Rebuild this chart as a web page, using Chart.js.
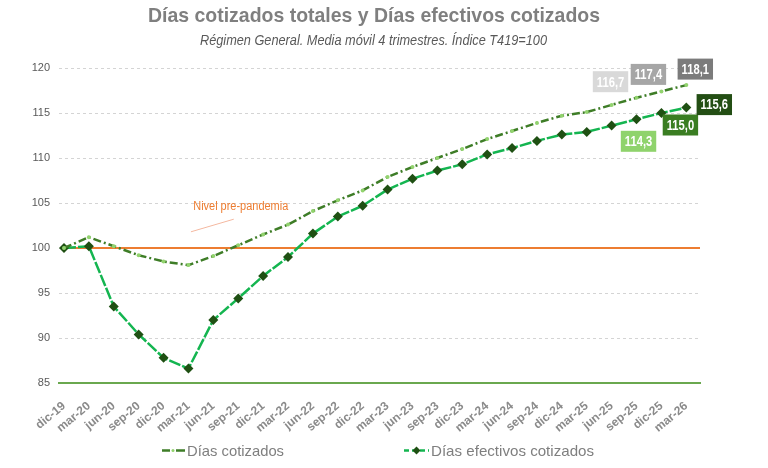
<!DOCTYPE html>
<html><head><meta charset="utf-8">
<script src="https://cdn.jsdelivr.net/npm/chart.js@4.4.1/dist/chart.umd.min.js"></script>
<style>html,body{margin:0;padding:0;background:#fff}#wrap{width:768px;height:468px;position:relative}</style>
</head><body><div id="wrap"><canvas id="c"></canvas></div>
<script>
const categories = ['dic-19','mar-20','jun-20','sep-20','dic-20','mar-21','jun-21','sep-21','dic-21','mar-22','jun-22','sep-22','dic-22','mar-23','jun-23','sep-23','dic-23','mar-24','jun-24','sep-24','dic-24','mar-25','jun-25','sep-25','dic-25','mar-26'];
const diasCotizados = [100, 101.2, 100.2, 99.2, 98.5, 98.1, 99.1, 100.3, 101.5, 102.6, 104.1, 105.3, 106.4, 107.9, 109.0, 110.0, 111.0, 112.1, 113.0, 113.9, 114.7, 115.1, 115.9, 116.7, 117.4, 118.1];
const diasEfectivos = [100, 100.2, 93.5, 90.4, 87.8, 86.6, 92.0, 94.4, 96.9, 99.0, 101.6, 103.5, 104.7, 106.5, 107.7, 108.6, 109.3, 110.4, 111.1, 111.9, 112.6, 112.9, 113.6, 114.3, 115.0, 115.6];
const yTickValues = [85, 90, 95, 100, 105, 110, 115, 120];
const seriesNames = ['Días cotizados', 'Días efectivos cotizados'];
const preLevel = 100;
const preLevelText = 'Nivel pre-pandemia';
const titleText = 'Días cotizados totales y Días efectivos cotizados';
const subtitleText = 'Régimen General. Media móvil 4 trimestres. Índice T419=100';
const labelledIndices = [23, 24, 25];

const SANS = "'Liberation Sans',Arial,sans-serif";
const fmt = v => v.toFixed(1).replace('.', ',');

// draw text squeezed horizontally to a target width (emulates a narrow face)
function fitText(ctx, text, x, y, font, width, align, baseline) {
  ctx.save();
  ctx.font = font;
  const s = width / ctx.measureText(text).width;
  ctx.translate(x, y);
  ctx.scale(s, 1);
  ctx.textAlign = align;
  ctx.textBaseline = baseline || 'alphabetic';
  ctx.fillText(text, 0, 0);
  ctx.restore();
}
function squeezeText(ctx, text, x, y, font, s, align, baseline) {
  ctx.save();
  ctx.font = font;
  ctx.translate(x, y);
  ctx.scale(s, 1);
  ctx.textAlign = align;
  ctx.textBaseline = baseline || 'alphabetic';
  ctx.fillText(text, 0, 0);
  ctx.restore();
}

const titlePlugin = {
  id: 'titles',
  afterDraw(chart) {
    const {ctx} = chart;
    ctx.fillStyle = '#7f7f7f';
    fitText(ctx, titleText, 374, 21.5, "bold 21px " + SANS, 452, 'center');
    ctx.fillStyle = '#595959';
    fitText(ctx, subtitleText, 373.5, 45, "italic 14px " + SANS, 347, 'center');
  }
};

const refLinePlugin = {
  id: 'refLine',
  beforeDatasetsDraw(chart) {
    const {ctx, chartArea, scales: {x, y}} = chart;
    const py = y.getPixelForValue(preLevel);
    ctx.save();
    ctx.strokeStyle = '#ed7d31';
    ctx.lineWidth = 2.2;
    ctx.beginPath();
    ctx.moveTo(x.getPixelForValue(0), py);
    ctx.lineTo(chartArea.right, py);
    ctx.stroke();
    ctx.strokeStyle = '#f4b8a0';
    ctx.lineWidth = 1;
    ctx.beginPath();
    ctx.moveTo(x.getPixelForValue(5.1), y.getPixelForValue(101.8));
    ctx.lineTo(x.getPixelForValue(6.82), y.getPixelForValue(103.2));
    ctx.stroke();
    ctx.fillStyle = '#ed7d31';
    fitText(ctx, preLevelText, x.getPixelForValue(7.1), y.getPixelForValue(104.55), "12px " + SANS, 95, 'center', 'middle');
    ctx.restore();
  }
};

const boxLabelStyles = [
  [{dx:-26, dy:-16, bg:'#d9d9d9'}, {dx:-13, dy:-17, bg:'#a6a6a6'}, {dx:9, dy:-16, bg:'#7b7b7b'}],
  [{dx:2, dy:22, bg:'#8fd36c'}, {dx:19, dy:12, bg:'#3a7d22'}, {dx:28, dy:-3, bg:'#234e14'}]
];

const boxLabelPlugin = {
  id: 'boxLabels',
  afterDatasetsDraw(chart) {
    const {ctx} = chart;
    const font = "bold 14px " + SANS;
    const s = 0.8;
    chart.data.datasets.forEach((ds, k) => {
      const meta = chart.getDatasetMeta(k);
      labelledIndices.forEach((idx, j) => {
        const pt = meta.data[idx];
        const st = boxLabelStyles[k][j];
        const txt = fmt(ds.data[idx].y);
        ctx.save();
        ctx.font = font;
        const w = ctx.measureText(txt).width * s + 8;
        ctx.restore();
        const h = 21;
        const cx = pt.x + st.dx, cy = pt.y + st.dy;
        ctx.fillStyle = st.bg;
        ctx.fillRect(cx - w / 2, cy - h / 2, w, h);
        ctx.fillStyle = '#ffffff';
        squeezeText(ctx, txt, cx, cy + 1, font, s, 'center', 'middle');
      });
    });
  }
};

const legendPlugin = {
  id: 'customLegend',
  afterDraw(chart) {
    const {ctx} = chart;
    const y = 450.5;
    const items = [{x0:162, x1:185, tx:187, tw:97}, {x0:404, x1:429, tx:431, tw:163}];
    chart.data.datasets.forEach((ds, k) => {
      const it = items[k];
      ctx.save();
      ctx.strokeStyle = ds.borderColor;
      ctx.lineWidth = 2.5;
      ctx.setLineDash(k === 0 ? [8, 6, 9] : [5, 3]);
      ctx.beginPath();
      ctx.moveTo(it.x0, y);
      ctx.lineTo(it.x1, y);
      ctx.stroke();
      ctx.setLineDash([]);
      const cx = (it.x0 + it.x1) / 2;
      ctx.fillStyle = ds.pointBackgroundColor;
      ctx.beginPath();
      if (k === 0) {
        ctx.arc(cx - 0.5, y, 1.5, 0, Math.PI * 2);
      } else {
        ctx.moveTo(cx, y - 4); ctx.lineTo(cx + 4, y); ctx.lineTo(cx, y + 4); ctx.lineTo(cx - 4, y); ctx.closePath();
      }
      ctx.fill();
      ctx.restore();
      ctx.fillStyle = '#7f7f7f';
      fitText(ctx, ds.label, it.tx, 455.5, "15px " + SANS, it.tw, 'left');
    });
  }
};

new Chart(document.getElementById('c'), {
  type: 'line',
  data: {
    datasets: [
      {
        label: seriesNames[0],
        data: categories.map((c, i) => ({x: i, y: diasCotizados[i]})),
        borderColor: '#3e7d27',
        borderWidth: 2.5,
        borderDash: [8, 3, 2, 3],
        pointRadius: 2,
        pointBackgroundColor: '#92d36e',
        pointBorderColor: '#92d36e',
        pointBorderWidth: 0,
        tension: 0
      },
      {
        label: seriesNames[1],
        data: categories.map((c, i) => ({x: i, y: diasEfectivos[i]})),
        borderColor: '#14b550',
        borderWidth: 2.5,
        borderDash: [12, 2],
        pointStyle: 'rectRot',
        pointRadius: 5,
        pointBackgroundColor: '#1f5013',
        pointBorderColor: '#1f5013',
        pointBorderWidth: 0,
        tension: 0
      }
    ]
  },
  options: {
    responsive: true,
    maintainAspectRatio: false,
    animation: false,
    events: [],
    layout: {padding: {left: 0, right: 68, top: 68, bottom: 0}},
    plugins: {
      legend: {display: false},
      tooltip: {enabled: false},
      title: {display: false},
      subtitle: {display: false}
    },
    scales: {
      x: {
        type: 'linear',
        min: -0.2,
        max: 25.55,
        afterBuildTicks: ax => { ax.ticks = categories.map((c, i) => ({value: i})); },
        afterFit: ax => { ax.height = 85; },
        grid: {display: false},
        border: {display: true, color: '#6aa84f', width: 2},
        ticks: {
          autoSkip: false, minRotation: 40, maxRotation: 40, padding: 8,
          color: '#8a8a8a', font: {family: SANS, size: 12, weight: 'bold'},
          callback: v => categories[v]
        }
      },
      y: {
        min: 85,
        max: 120,
        afterBuildTicks: ax => { ax.ticks = yTickValues.map(v => ({value: v})); },
        afterFit: ax => { ax.width = 59; },
        grid: {color: '#d4d4d4', lineWidth: 1, drawTicks: false},
        border: {display: false, dash: [3, 3]},
        ticks: {color: '#595959', font: {family: SANS, size: 11}, padding: 9}
      }
    }
  },
  plugins: [refLinePlugin, boxLabelPlugin, legendPlugin, titlePlugin]
});
</script>
</body></html>
